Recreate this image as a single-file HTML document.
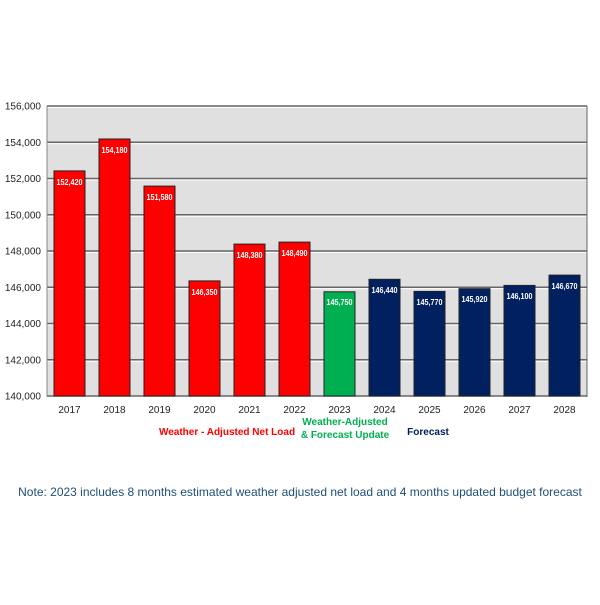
<!DOCTYPE html><html><head><style>body{margin:0;background:#fff}svg text{font-family:"Liberation Sans",sans-serif}</style></head><body>
<svg width="600" height="600" xmlns="http://www.w3.org/2000/svg">
<rect x="47" y="106" width="540" height="290" fill="#e0e0e0"/>
<g stroke="#666" stroke-width="1.5">
<line x1="47" x2="587" y1="359.75" y2="359.75"/><line x1="47" x2="587" y1="323.5" y2="323.5"/><line x1="47" x2="587" y1="287.25" y2="287.25"/><line x1="47" x2="587" y1="251" y2="251"/><line x1="47" x2="587" y1="214.75" y2="214.75"/><line x1="47" x2="587" y1="178.5" y2="178.5"/><line x1="47" x2="587" y1="142.25" y2="142.25"/><line x1="47" x2="587" y1="106" y2="106"/><line x1="47" x2="587" y1="396" y2="396"/>
</g>
<g stroke="#fff" stroke-width="1">
<line x1="47" x2="587" y1="361.25" y2="361.25"/><line x1="47" x2="587" y1="325" y2="325"/><line x1="47" x2="587" y1="288.75" y2="288.75"/><line x1="47" x2="587" y1="252.5" y2="252.5"/><line x1="47" x2="587" y1="216.25" y2="216.25"/><line x1="47" x2="587" y1="180" y2="180"/><line x1="47" x2="587" y1="143.75" y2="143.75"/><line x1="47" x2="587" y1="107.5" y2="107.5"/>
</g>
<line x1="47" x2="47" y1="106" y2="397" stroke="#888"/><line x1="587" x2="587" y1="106" y2="397" stroke="#666"/>
<g font-size="10" text-anchor="end" fill="#222">
<text x="41" y="399.5">140,000</text><text x="41" y="363.25">142,000</text><text x="41" y="327">144,000</text><text x="41" y="290.75">146,000</text><text x="41" y="254.5">148,000</text><text x="41" y="218.25">150,000</text><text x="41" y="182">152,000</text><text x="41" y="145.75">154,000</text><text x="41" y="109.5">156,000</text>
</g>
<g stroke="#222" stroke-width="1">
<rect x="54" y="170.9" width="31" height="225.1" fill="#ff0000"/>
<rect x="99" y="139" width="31" height="257" fill="#ff0000"/>
<rect x="144" y="186.1" width="31" height="209.9" fill="#ff0000"/>
<rect x="189" y="280.9" width="31" height="115.1" fill="#ff0000"/>
<rect x="234" y="244.1" width="31" height="151.9" fill="#ff0000"/>
<rect x="279" y="242.1" width="31" height="153.9" fill="#ff0000"/>
<rect x="324" y="291.8" width="31" height="104.2" fill="#00b050"/>
<rect x="369" y="279.3" width="31" height="116.7" fill="#002060"/>
<rect x="414" y="291.4" width="31" height="104.6" fill="#002060"/>
<rect x="459" y="288.7" width="31" height="107.3" fill="#002060"/>
<rect x="504" y="285.4" width="31" height="110.6" fill="#002060"/>
<rect x="549" y="275.1" width="31" height="120.9" fill="#002060"/>
</g>
<g font-size="8.5" font-weight="bold" fill="#fff">
<text x="56.5" y="185" textLength="26" lengthAdjust="spacingAndGlyphs">152,420</text>
<text x="101.5" y="153" textLength="26" lengthAdjust="spacingAndGlyphs">154,180</text>
<text x="146.5" y="200" textLength="26" lengthAdjust="spacingAndGlyphs">151,580</text>
<text x="191.5" y="295" textLength="26" lengthAdjust="spacingAndGlyphs">146,350</text>
<text x="236.5" y="258" textLength="26" lengthAdjust="spacingAndGlyphs">148,380</text>
<text x="281.5" y="256" textLength="26" lengthAdjust="spacingAndGlyphs">148,490</text>
<text x="326.5" y="305" textLength="26" lengthAdjust="spacingAndGlyphs">145,750</text>
<text x="371.5" y="293" textLength="26" lengthAdjust="spacingAndGlyphs">146,440</text>
<text x="416.5" y="305" textLength="26" lengthAdjust="spacingAndGlyphs">145,770</text>
<text x="461.5" y="302" textLength="26" lengthAdjust="spacingAndGlyphs">145,920</text>
<text x="506.5" y="299" textLength="26" lengthAdjust="spacingAndGlyphs">146,100</text>
<text x="551.5" y="289" textLength="26" lengthAdjust="spacingAndGlyphs">146,670</text>
</g>
<g font-size="10" fill="#222" text-anchor="middle">
<text x="69.5" y="413">2017</text><text x="114.5" y="413">2018</text><text x="159.5" y="413">2019</text><text x="204.5" y="413">2020</text><text x="249.5" y="413">2021</text><text x="294.5" y="413">2022</text><text x="339.5" y="413">2023</text><text x="384.5" y="413">2024</text><text x="429.5" y="413">2025</text><text x="474.5" y="413">2026</text><text x="519.5" y="413">2027</text><text x="564.5" y="413">2028</text>
</g>
<text x="227" y="435" font-size="10" font-weight="bold" fill="#ff0000" text-anchor="middle">Weather - Adjusted Net Load</text>
<text x="345" y="425" font-size="10" font-weight="bold" fill="#00b050" text-anchor="middle">Weather-Adjusted</text>
<text x="345" y="438" font-size="10" font-weight="bold" fill="#00b050" text-anchor="middle">&amp; Forecast Update</text>
<text x="428" y="435" font-size="10" font-weight="bold" fill="#002060" text-anchor="middle">Forecast</text>
<text x="300" y="496" font-size="12" fill="#1f4e79" text-anchor="middle">Note: 2023 includes 8 months estimated weather adjusted net load and 4 months updated budget forecast</text>
</svg></body></html>
